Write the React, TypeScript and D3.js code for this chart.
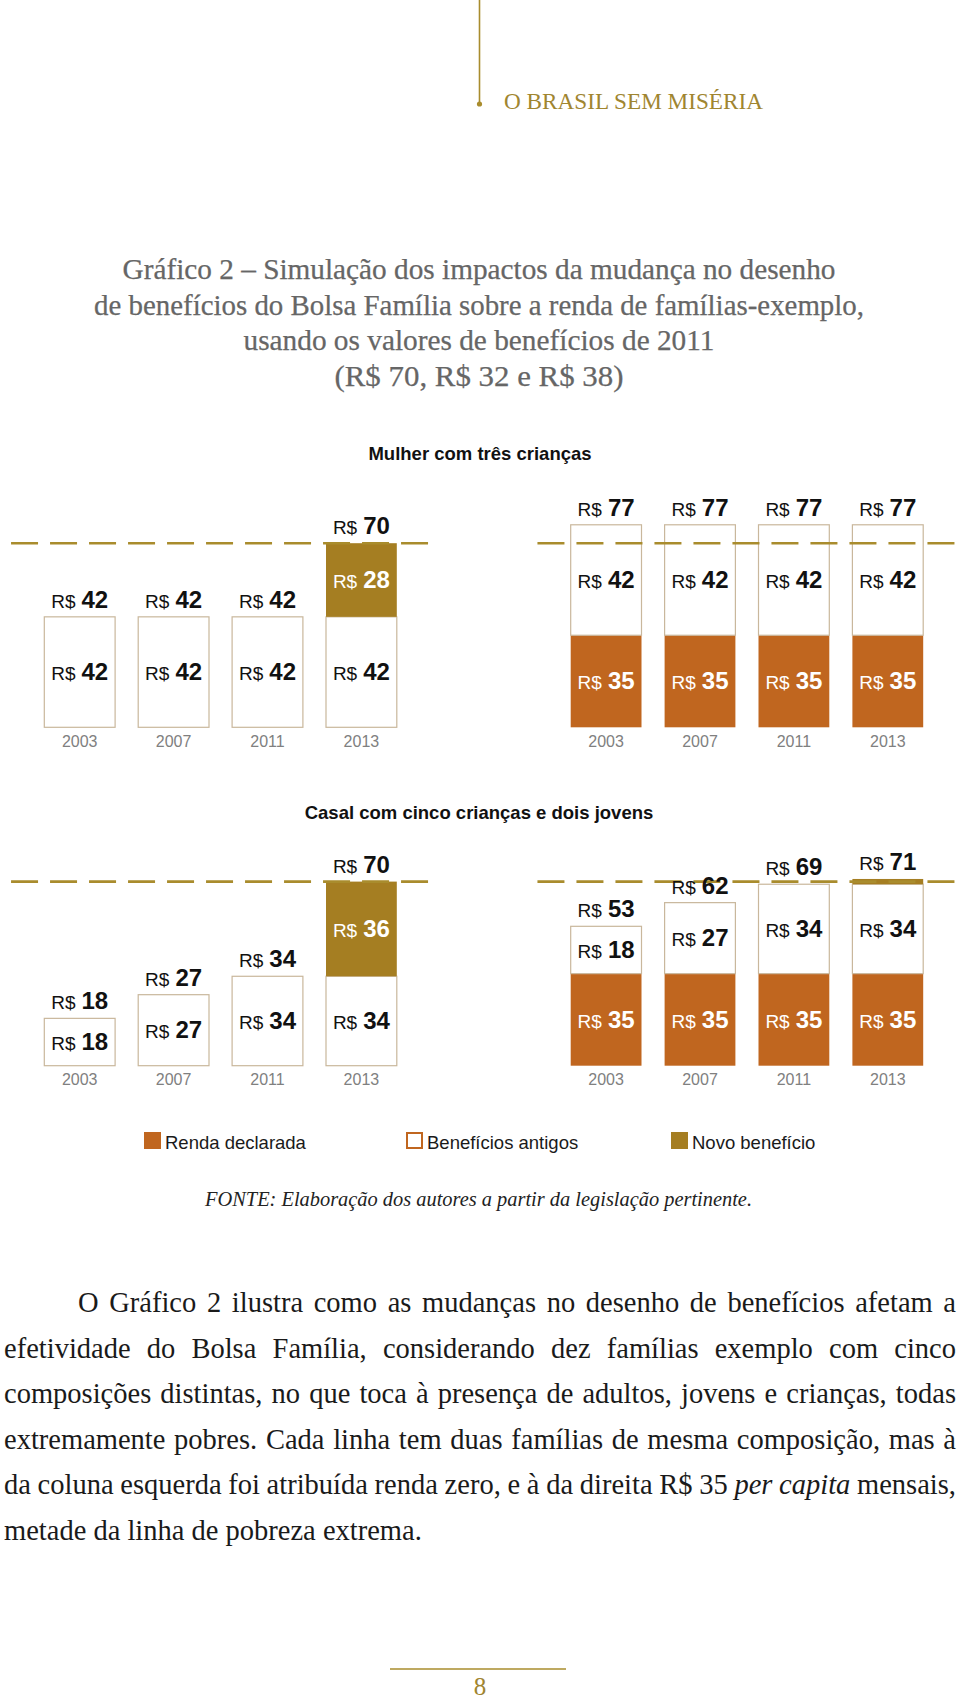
import React from "react";
import * as d3 from "d3";

// ---------- data ----------
const years = ["2003", "2007", "2011", "2013"];
const chartTitles = ["Mulher com três crianças", "Casal com cinco crianças e dois jovens"];
const seriesKeys = ["renda", "antigos", "novo"];
const seriesNames = ["Renda declarada", "Benefícios antigos", "Novo benefício"];
const povertyLine = 70;

// Mulher com três crianças
const renda1Left = [0, 0, 0, 0];
const antigos1Left = [42, 42, 42, 42];
const novo1Left = [0, 0, 0, 28];
const renda1Right = [35, 35, 35, 35];
const antigos1Right = [42, 42, 42, 42];
const novo1Right = [0, 0, 0, 0];

// Casal com cinco crianças e dois jovens
const renda2Left = [0, 0, 0, 0];
const antigos2Left = [18, 27, 34, 34];
const novo2Left = [0, 0, 0, 36];
const renda2Right = [35, 35, 35, 35];
const antigos2Right = [18, 27, 34, 34];
const novo2Right = [0, 0, 0, 2];

const headerText = "O BRASIL SEM MISÉRIA";
const titleLines = [
  "Gráfico 2 – Simulação dos impactos da mudança no desenho",
  "de benefícios do Bolsa Família sobre a renda de famílias-exemplo,",
  "usando os valores de benefícios de 2011",
  "(R$ 70, R$ 32 e R$ 38)",
];
const sourceText = "FONTE: Elaboração dos autores a partir da legislação pertinente.";
const paragraphLines = [
  "O Gráfico 2 ilustra como as mudanças no desenho de benefícios afetam a",
  "efetividade do Bolsa Família, considerando dez famílias exemplo com cinco",
  "composições distintas, no que toca à presença de adultos, jovens e crianças, todas",
  "extremamente pobres. Cada linha tem duas famílias de mesma composição, mas à",
  "da coluna esquerda foi atribuída renda zero, e à da direita R$ 35 per capita mensais,",
  "metade da linha de pobreza extrema.",
];
const italicWords = ["per", "capita"];
const pageNumber = "8";

// ---------- styles ----------
const SANS = "'Liberation Sans', Arial, sans-serif";
const SERIF = "'Liberation Serif', 'Times New Roman', serif";
const GOLD = "#a57e22";
const LINE_GOLD = "#a98c2d";
const ORANGE = "#c0661f";
const OUTLINE = "#c9b79c";
const colors: Record<string, string> = { renda: ORANGE, antigos: "#ffffff", novo: GOLD };

let _canvas: HTMLCanvasElement | null = null;
function measure(text: string, font: string): number {
  if (typeof document === "undefined") return text.length * 11;
  if (!_canvas) _canvas = document.createElement("canvas");
  const ctx = _canvas.getContext("2d")!;
  ctx.font = font;
  return ctx.measureText(text).width;
}

function MoneyLabel({ x, y, value, fill }: { x: number; y: number; value: number; fill: string }) {
  return (
    <text x={x} y={y} textAnchor="middle" fill={fill} fontFamily={SANS}>
      <tspan fontSize={19}>R$</tspan>
      <tspan fontSize={24} fontWeight="bold" dx={6}>
        {value}
      </tspan>
    </text>
  );
}

function Panel({
  x0,
  bottom,
  renda,
  antigos,
  novo,
}: {
  x0: number;
  bottom: number;
  renda: number[];
  antigos: number[];
  novo: number[];
}) {
  const x = d3
    .scaleBand<string>()
    .domain(years)
    .range([x0, x0 + 375.6])
    .paddingInner(0.246)
    .paddingOuter(0.123);
  const y = d3.scaleLinear().domain([0, povertyLine]).range([bottom, bottom - 184.1]);
  const rows = years.map((yr, i) => ({ year: yr, renda: renda[i], antigos: antigos[i], novo: novo[i] }));
  const stacked = d3.stack<any>().keys(seriesKeys)(rows);
  const bw = x.bandwidth();

  return (
    <g>
      {stacked.map((layer) =>
        layer.map((d, i) => {
          const v = d[1] - d[0];
          if (v <= 0) return null;
          const isWhite = layer.key === "antigos";
          return (
            <rect
              key={layer.key + i}
              x={x(years[i])!}
              y={y(d[1])}
              width={bw}
              height={y(d[0]) - y(d[1])}
              fill={colors[layer.key]}
              stroke={isWhite ? OUTLINE : "none"}
              strokeWidth={isWhite ? 1.2 : 0}
            />
          );
        })
      )}
      <line
        x1={x0 - 21.7}
        x2={x0 + 375.6 + 21.7}
        y1={y(povertyLine)}
        y2={y(povertyLine)}
        stroke={LINE_GOLD}
        strokeWidth={2.6}
        strokeDasharray="27 12"
      />
      {stacked.map((layer) =>
        layer.map((d, i) => {
          const v = d[1] - d[0];
          if (v < 5) return null;
          const cy = (y(d[0]) + y(d[1])) / 2 + 8;
          return (
            <MoneyLabel
              key={"l" + layer.key + i}
              x={x(years[i])! + bw / 2}
              y={cy}
              value={v}
              fill={layer.key === "antigos" ? "#111" : "#ffffff"}
            />
          );
        })
      )}
      {years.map((yr, i) => {
        const total = renda[i] + antigos[i] + novo[i];
        return (
          <MoneyLabel key={"t" + yr} x={x(yr)! + bw / 2} y={y(total) - 9} value={total} fill="#111" />
        );
      })}
      {years.map((yr) => (
        <text
          key={"y" + yr}
          x={x(yr)! + bw / 2}
          y={bottom + 19.5}
          textAnchor="middle"
          fontFamily={SANS}
          fontSize={16}
          fill="#808080"
        >
          {yr}
        </text>
      ))}
    </g>
  );
}

function Paragraph() {
  const fs = 28.5;
  const left = 4;
  const right = 956;
  const indent = 78;
  const top = 1312;
  const lh = 45.6;
  return (
    <g fontFamily={SERIF} fontSize={fs} fill="#1a1a1a">
      {paragraphLines.map((line, li) => {
        const words = line.split(" ");
        const isLast = li === paragraphLines.length - 1;
        const startX = li === 0 ? indent : left;
        const fonts = words.map((w) =>
          li === 4 && italicWords.includes(w) ? `italic ${fs}px 'Liberation Serif'` : `${fs}px 'Liberation Serif'`
        );
        const widths = words.map((w, i) => measure(w, fonts[i]));
        const sum = widths.reduce((a, b) => a + b, 0);
        const space = isLast ? measure(" ", `${fs}px 'Liberation Serif'`) : (right - startX - sum) / (words.length - 1);
        let cx = startX;
        const items = words.map((w, i) => {
          const el = (
            <text
              key={i}
              x={cx}
              y={top + li * lh}
              fontStyle={li === 4 && italicWords.includes(w) ? "italic" : "normal"}
            >
              {w}
            </text>
          );
          cx += widths[i] + space;
          return el;
        });
        return <g key={li}>{items}</g>;
      })}
    </g>
  );
}

export default function App() {
  const titleWidths = [713, 770, 471, 289];
  const titleBaselines = [279, 314.6, 350, 386];
  const legendX = [144, 406, 671];
  return (
    <svg
      width={960}
      height={1701}
      viewBox="0 0 960 1701"
      style={{ position: "absolute", left: 0, top: 0, background: "#fff" }}
    >
      <rect x={0} y={0} width={960} height={1701} fill="#fff" />
      {/* header */}
      <line x1={479.5} x2={479.5} y1={0} y2={103} stroke={LINE_GOLD} strokeWidth={1.6} />
      <circle cx={479.5} cy={104} r={2.6} fill={LINE_GOLD} />
      <text
        x={504}
        y={109}
        fontFamily={SERIF}
        fontSize={24}
        fill="#a08530"
        textLength={259}
        lengthAdjust="spacingAndGlyphs"
      >
        {headerText}
      </text>

      {/* title */}
      {titleLines.map((t, i) => (
        <text
          key={i}
          x={479}
          y={titleBaselines[i]}
          textAnchor="middle"
          fontFamily={SERIF}
          fontSize={29}
          fill="#666"
          stroke="#666"
          strokeWidth={0.25}
          textLength={titleWidths[i]}
          lengthAdjust="spacingAndGlyphs"
        >
          {t}
        </text>
      ))}

      {/* chart 1 */}
      <text x={480} y={460} textAnchor="middle" fontFamily={SANS} fontSize={18.5} fontWeight="bold" fill="#111">
        {chartTitles[0]}
      </text>
      <Panel x0={32.75} bottom={727.3} renda={renda1Left} antigos={antigos1Left} novo={novo1Left} />
      <Panel x0={559.15} bottom={727.3} renda={renda1Right} antigos={antigos1Right} novo={novo1Right} />

      {/* chart 2 */}
      <text x={479} y={819.3} textAnchor="middle" fontFamily={SANS} fontSize={18.5} fontWeight="bold" fill="#111">
        {chartTitles[1]}
      </text>
      <Panel x0={32.75} bottom={1065.7} renda={renda2Left} antigos={antigos2Left} novo={novo2Left} />
      <Panel x0={559.15} bottom={1065.7} renda={renda2Right} antigos={antigos2Right} novo={novo2Right} />

      {/* legend */}
      {seriesKeys.map((k, i) => (
        <g key={k}>
          <rect
            x={legendX[i] + (k === "antigos" ? 1 : 0)}
            y={1132 + (k === "antigos" ? 1 : 0)}
            width={k === "antigos" ? 15 : 17}
            height={k === "antigos" ? 15 : 17}
            fill={k === "antigos" ? "#fff" : colors[k]}
            stroke={k === "antigos" ? ORANGE : "none"}
            strokeWidth={k === "antigos" ? 2 : 0}
          />
          <text x={legendX[i] + 21} y={1149} fontFamily={SANS} fontSize={18.5} fill="#1a1a1a">
            {seriesNames[i]}
          </text>
        </g>
      ))}

      {/* source */}
      <text
        x={205}
        y={1206}
        fontFamily={SERIF}
        fontStyle="italic"
        fontSize={22}
        fill="#222"
        textLength={547}
        lengthAdjust="spacingAndGlyphs"
      >
        {sourceText}
      </text>

      <Paragraph />

      {/* footer */}
      <line x1={390} x2={566} y1={1669} y2={1669} stroke={LINE_GOLD} strokeWidth={1.6} />
      <text x={480} y={1695} textAnchor="middle" fontFamily={SERIF} fontSize={25} fill="#a08530">
        {pageNumber}
      </text>
    </svg>
  );
}
